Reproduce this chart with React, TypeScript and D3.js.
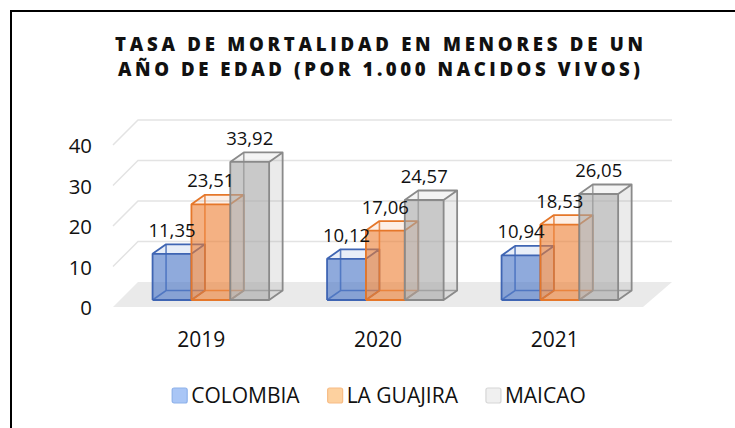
import React, { useRef, useEffect } from "react";
import * as d3 from "d3";

const years = ["2019", "2020", "2021"];
const seriesNames = ["COLOMBIA", "LA GUAJIRA", "MAICAO"];
const colombia = [11.35, 10.12, 10.94];
const laGuajira = [23.51, 17.06, 18.53];
const maicao = [33.92, 24.57, 26.05];
const yTicks = [0, 10, 20, 30, 40];
const titleLines = [
  "TASA DE MORTALIDAD EN MENORES DE UN",
  "AÑO DE EDAD (POR 1.000 NACIDOS VIVOS)",
];

const styles = [
  { base: "#4472C4", edge: "#3F65B3", swatch: "#A9C6F6", swatchEdge: "#8EB1EA" },
  { base: "#ED7D31", edge: "#E5772A", swatch: "#FDD19F", swatchEdge: "#F7BC85" },
  { base: "#A5A5A5", edge: "#8A8A8A", swatch: "#F0F0F0", swatchEdge: "#D6D6D6" },
];

const FONT = "'Open Sans', 'DejaVu Sans', sans-serif";

const App: React.FC = () => {
  const ref = useRef<SVGSVGElement>(null);

  useEffect(() => {
    const svg = d3.select(ref.current);
    svg.selectAll("*").remove();

    // floor / walls of the 3D box
    const floor = { left: 113, right: 643, front: 307, backDx: 25, backDxR: 29, back: 282 };
    const yFront = d3.scaleLinear().domain([0, 40]).range([floor.front, 145]);
    const yBack = d3.scaleLinear().domain([0, 40]).range([floor.back, 120]);
    // bars sit a bit inside the depth of the floor
    const yBar = d3.scaleLinear().domain([0, 40]).range([300, 137.2]);
    const depth = { dx: 13.5, dy: -9.5 };

    const xCat = d3.scaleBand().domain(years).range([floor.left, floor.right]);
    const xGroup = d3
      .scaleBand()
      .domain(years)
      .range([123.6, 647.1])
      .paddingInner(0.332)
      .paddingOuter(0.166);
    const xSeries = d3.scaleBand().domain(seriesNames).range([0, xGroup.bandwidth()]);

    // chart frame
    svg
      .append("rect")
      .attr("x", 11)
      .attr("y", 11)
      .attr("width", 800)
      .attr("height", 500)
      .attr("fill", "#fff")
      .attr("stroke", "#000")
      .attr("stroke-width", 2);

    // title
    svg
      .append("g")
      .selectAll("text")
      .data(titleLines)
      .enter()
      .append("text")
      .attr("x", 379)
      .attr("y", (_, i) => 50.5 + i * 25.5)
      .attr("text-anchor", "middle")
      .attr("textLength", (_, i) => (i === 0 ? 528 : 522))
      .attr("lengthAdjust", "spacing")
      .style("font-family", FONT)
      .style("font-weight", 800)
      .style("font-size", "18.6px")
      .style("fill", "#111")
      .text((d) => d);

    // floor
    svg
      .append("polygon")
      .attr(
        "points",
        [
          [floor.left, floor.front],
          [floor.right, floor.front],
          [floor.right + floor.backDxR, floor.back],
          [floor.left + floor.backDx, floor.back],
        ]
          .map((p) => p.join(","))
          .join(" ")
      )
      .attr("fill", "#EAEAEA");

    // gridlines: side wall diagonal + back wall horizontal
    const grid = svg.append("g").attr("fill", "none").attr("stroke", "#E3E3E3").attr("stroke-width", 1.5);
    grid
      .selectAll("path")
      .data(yTicks.filter((t) => t > 0))
      .enter()
      .append("path")
      .attr(
        "d",
        (t) =>
          `M${floor.left},${yFront(t)}L${floor.left + floor.backDx},${yBack(t)}L${floor.right + floor.backDxR},${yBack(t)}`
      );

    // y tick labels
    svg
      .append("g")
      .selectAll("text")
      .data(yTicks)
      .enter()
      .append("text")
      .attr("x", 92)
      .attr("y", (t) => yFront(t) + 8)
      .attr("text-anchor", "end")
      .style("font-family", FONT)
      .style("font-size", "20.4px")
      .style("fill", "#111")
      .text((t) => t);

    // category labels
    svg
      .append("g")
      .selectAll("text")
      .data(years)
      .enter()
      .append("text")
      .attr("x", (d) => (xCat(d) || 0) + xCat.bandwidth() / 2)
      .attr("y", 346.5)
      .attr("text-anchor", "middle")
      .style("font-family", FONT)
      .style("font-size", "21px")
      .style("fill", "#111")
      .text((d) => d);

    // bars
    const values = [colombia, laGuajira, maicao];
    const bars = svg.append("g");
    years.forEach((year, ci) => {
      seriesNames.forEach((name, si) => {
        const v = values[si][ci];
        const st = styles[si];
        const x0 = (xGroup(year) || 0) + (xSeries(name) || 0);
        const w = xSeries.bandwidth();
        const yb = yBar(0);
        const yt = yBar(v);
        const { dx, dy } = depth;
        const g = bars.append("g");
        const pts = (arr: number[][]) => arr.map((p) => p.join(",")).join(" ");
        const line = (arr: number[][]) => "M" + arr.map((p) => p.join(",")).join("L");

        // hidden edges first, so the faces tone them down
        g.append("path")
          .attr(
            "d",
            line([[x0, yb], [x0 + dx, yb + dy], [x0 + w + dx, yb + dy]]) +
              line([[x0 + dx, yb + dy], [x0 + dx, yt + dy]])
          )
          .attr("fill", "none")
          .attr("stroke", st.edge)
          .attr("stroke-width", 1.6)
          .attr("stroke-opacity", 0.8);

        // faces
        g.append("polygon")
          .attr("points", pts([[x0 + w, yt], [x0 + w + dx, yt + dy], [x0 + w + dx, yb + dy], [x0 + w, yb]]))
          .attr("fill", st.base)
          .attr("fill-opacity", 0.22);
        g.append("polygon")
          .attr("points", pts([[x0, yt], [x0 + dx, yt + dy], [x0 + w + dx, yt + dy], [x0 + w, yt]]))
          .attr("fill", st.base)
          .attr("fill-opacity", 0.12);
        g.append("polygon")
          .attr("points", pts([[x0, yt], [x0 + w, yt], [x0 + w, yb], [x0, yb]]))
          .attr("fill", st.base)
          .attr("fill-opacity", 0.6);

        // visible edges
        g.append("path")
          .attr(
            "d",
            line([[x0, yb], [x0, yt], [x0 + w, yt], [x0 + w, yb], [x0, yb]]) +
              line([[x0, yt], [x0 + dx, yt + dy], [x0 + w + dx, yt + dy], [x0 + w, yt]]) +
              line([[x0 + w + dx, yt + dy], [x0 + w + dx, yb + dy], [x0 + w, yb]])
          )
          .attr("fill", "none")
          .attr("stroke", st.edge)
          .attr("stroke-width", 1.8)
          .attr("stroke-linejoin", "round");
      });
    });

    // data labels
    const labels = svg.append("g");
    years.forEach((year, ci) => {
      seriesNames.forEach((name, si) => {
        const v = values[si][ci];
        const x0 = (xGroup(year) || 0) + (xSeries(name) || 0);
        labels
          .append("text")
          .attr("x", x0 + xSeries.bandwidth() / 2)
          .attr("y", yBar(v) + depth.dy - 7.5)
          .attr("text-anchor", "middle")
          .style("font-family", FONT)
          .style("font-size", "18.5px")
          .style("fill", "#111")
          .text(v.toFixed(2).replace(".", ","));
      });
    });

    // legend, laid out from measured text widths and centred
    const legend = svg.append("g");
    const items = seriesNames.map((name, i) => {
      const item = legend.append("g");
      item
        .append("rect")
        .attr("x", 0)
        .attr("y", 388)
        .attr("width", 15)
        .attr("height", 15)
        .attr("rx", 2)
        .attr("fill", styles[i].swatch)
        .attr("stroke", styles[i].swatchEdge)
        .attr("stroke-width", 1.2);
      const t = item
        .append("text")
        .attr("x", 19)
        .attr("y", 403)
        .style("font-family", FONT)
        .style("font-size", "21px")
        .style("fill", "#111")
        .text(name);
      const tw = (t.node() as SVGTextElement).getComputedTextLength();
      return { item, width: 19 + tw };
    });
    const gap = 28;
    const total = d3.sum(items, (d) => d.width) + gap * (items.length - 1);
    let cx = 379 - total / 2;
    items.forEach((d) => {
      d.item.attr("transform", `translate(${cx},0)`);
      cx += d.width + gap;
    });
  }, []);

  return (
    <svg
      ref={ref}
      width={735}
      height={428}
      style={{ position: "absolute", left: 0, top: 0, display: "block" }}
    ></svg>
  );
};

export default App;
